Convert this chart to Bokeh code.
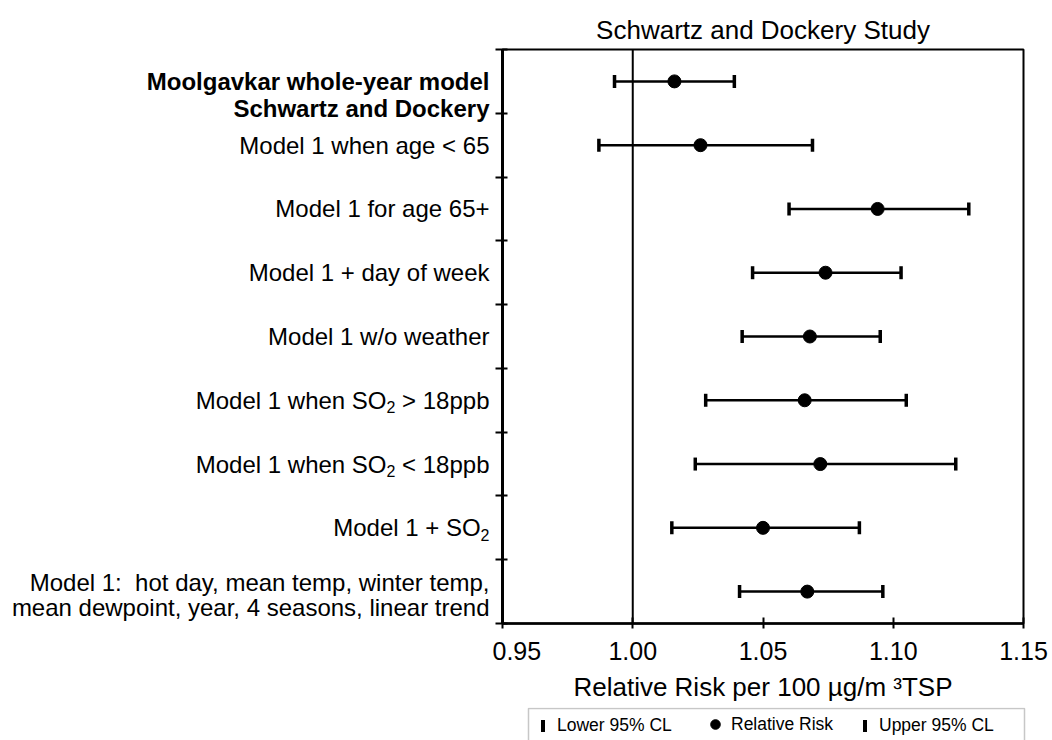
import math

from bokeh.core.properties import value
from bokeh.embed import file_html
from bokeh.layouts import column, row
from bokeh.models import (BoxAnnotation, ColumnDataSource, FixedTicker, Legend,
                          LegendItem, Range1d, Span)
from bokeh.plotting import figure
from bokeh.resources import INLINE

FONT = "Liberation Sans"
NBSP = "\u00a0"

# ---- data (top row first) -------------------------------------------------
studies = [
    "Moolgavkar whole-year model",
    "Model 1 when age < 65",
    "Model 1 for age 65+",
    "Model 1 + day of week",
    "Model 1 w/o weather",
    "Model 1 when SO_2 > 18ppb",
    "Model 1 when SO_2 < 18ppb",
    "Model 1 + SO_2",
    "Model 1:" + NBSP + " hot day, mean temp, winter temp,\n"
    "mean dewpoint, year, 4 seasons, linear trend",
]
bold_rows = [True, False, False, False, False, False, False, False, False]
lower_cl = [0.993, 0.987, 1.060, 1.046, 1.042, 1.028, 1.024, 1.015, 1.041]
relative_risk = [1.016, 1.026, 1.094, 1.074, 1.068, 1.066, 1.072, 1.050, 1.067]
upper_cl = [1.039, 1.069, 1.129, 1.103, 1.095, 1.105, 1.124, 1.087, 1.096]

group_header = "Schwartz and Dockery"
x_ticks = [0.95, 1.00, 1.05, 1.10, 1.15]
x_tick_labels = ["0.95", "1.00", "1.05", "1.10", "1.15"]

title_text = "Schwartz and Dockery Study"
x_title = "Relative Risk per 100 \u00b5g/m \u00b3TSP"
legend_labels = ["Lower 95% CL", "Relative Risk", "Upper 95% CL"]

# ---- layout constants -----------------------------------------------------
n = len(studies)
row_y = [n - 0.5 - i for i in range(n)]
header_y = n - 0.93

TOP, BOTTOM = 49, 84
FRAME_H = 574
LABEL_W = 492
LABEL_PX = 24
SUB_PX = 16
# Arial / Liberation Sans advance widths (per 1000 em) for label tails
ADV = {" ": 278, NBSP: 278, "<": 584, ">": 584, "1": 556, "8": 556,
       "p": 556, "b": 556, "2": 556}


def text_width(s, px):
    return sum(ADV.get(c, 556) for c in s) * px / 1000.0


y_range = Range1d(0, n)
src = ColumnDataSource(dict(y=row_y, lo=lower_cl, rr=relative_risk, hi=upper_cl))

# ---- main chart -----------------------------------------------------------
p = figure(frame_width=521, frame_height=FRAME_H, output_backend="svg",
           toolbar_location=None, x_range=Range1d(0.95, 1.15), y_range=y_range,
           min_border_left=10, min_border_right=29, min_border_top=TOP,
           min_border_bottom=BOTTOM, title=title_text)

p.title.align = "center"
p.title.text_font = FONT
p.title.text_font_size = "26px"
p.title.text_font_style = "normal"
p.title.text_color = "black"

p.grid.visible = False
p.outline_line_color = "black"
p.outline_line_width = 2
p.background_fill_color = "white"
p.border_fill_color = "white"

xa = p.xaxis[0]
xa.ticker = FixedTicker(ticks=x_ticks)
xa.major_label_overrides = {t: s for t, s in zip(x_ticks, x_tick_labels)}
xa.major_label_text_font = FONT
xa.major_label_text_font_size = "25px"
xa.major_label_text_color = "black"
xa.axis_label = x_title
xa.axis_label_text_font = FONT
xa.axis_label_text_font_size = "26px"
xa.axis_label_text_font_style = "normal"
xa.axis_label_text_color = "black"
xa.axis_label_standoff = 9
xa.major_label_standoff = 13
xa.axis_line_width = 2.5
xa.axis_line_color = "black"
xa.major_tick_line_width = 2
xa.major_tick_line_color = "black"
xa.major_tick_in = 6
xa.major_tick_out = 5
xa.minor_tick_line_color = None

# y axis: only boundary ticks between rows
ya = p.yaxis[0]
ya.ticker = FixedTicker(ticks=[], minor_ticks=list(range(n + 1)))
ya.axis_line_width = 3
ya.axis_line_color = "black"
ya.minor_tick_line_width = 2
ya.minor_tick_line_color = "black"
ya.minor_tick_in = 5
ya.minor_tick_out = 7
ya.major_tick_line_color = None
ya.major_label_standoff = 0

p.add_layout(Span(location=1.0, dimension="height", line_color="black",
                  line_width=2))

p.segment(x0="lo", y0="y", x1="hi", y1="y", source=src,
          line_color="black", line_width=2.5)
p.scatter(x="lo", y="y", source=src, marker="dash", angle=math.pi / 2,
          size=13, line_width=3.5, line_color="black")
p.scatter(x="hi", y="y", source=src, marker="dash", angle=math.pi / 2,
          size=13, line_width=3.5, line_color="black")
p.scatter(x="rr", y="y", source=src, marker="circle", size=13,
          fill_color="black", line_color="black")

# ---- category labels ------------------------------------------------------
lab = figure(frame_width=LABEL_W, frame_height=FRAME_H, output_backend="svg",
             toolbar_location=None, x_range=Range1d(0, LABEL_W), y_range=y_range,
             min_border_left=0, min_border_right=0, min_border_top=TOP,
             min_border_bottom=BOTTOM, x_axis_location=None,
             y_axis_location=None)
lab.outline_line_color = None
lab.grid.visible = False

RIGHT = 489


def add_text(text, x, y, align="right", size=LABEL_PX, bold=False, dy=0):
    lab.text(x=[x], y=[y], text=[text], text_align=align,
             text_baseline="middle", text_font=value(FONT),
             text_font_size=value(f"{size}px"),
             text_font_style="bold" if bold else "normal",
             text_color="black", y_offset=dy)


for label, y, bold in zip(studies, row_y, bold_rows):
    lines = label.split("\n")
    if len(lines) > 1:
        for k, line in enumerate(lines):
            add_text(line, RIGHT, y, dy=-9 + 25 * k)
        continue
    if "_2" in label:
        head, tail = label.split("_2")
        tail = tail.replace(" ", NBSP, 1) if tail.startswith(" ") else tail
        tail_w = text_width(tail, LABEL_PX)
        sub_w = text_width("2", SUB_PX)
        if tail:
            add_text(tail, RIGHT - tail_w, y, align="left")
        add_text("2", RIGHT - tail_w - sub_w, y, align="left", size=SUB_PX, dy=7)
        add_text(head, RIGHT - tail_w - sub_w, y)
    else:
        add_text(label, RIGHT, y, bold=bold)

add_text(group_header, RIGHT, header_y, bold=True)

# ---- legend strip ---------------------------------------------------------
LEG_H = 740 - (TOP + FRAME_H + BOTTOM)
leg = figure(width=1052, height=LEG_H, output_backend="svg",
             toolbar_location=None, x_range=Range1d(0, 1052),
             y_range=Range1d(0, LEG_H), min_border=0,
             x_axis_location=None, y_axis_location=None)
leg.outline_line_color = None
leg.grid.visible = False

# frame around the three keys (runs past the bottom of the page)
leg.add_layout(BoxAnnotation(left=528, right=1024, bottom=-20, top=LEG_H - 1,
                             fill_alpha=0, line_color="#444444",
                             line_width=1.5))

# key glyphs sit outside the strip's visible range; only the legends show them
key = ColumnDataSource(dict(x=[-100], y=[-100]))
lo_key = leg.rect(x="x", y="y", width=1, height=1, source=key,
                  fill_color="black", line_color=None)
rr_key = leg.scatter(x="x", y="y", source=key, marker="circle",
                     fill_color="black", line_color="black")
hi_key = leg.rect(x="x", y="y", width=1, height=1, source=key,
                  fill_color="black", line_color=None)

key_specs = [  # (renderer, glyph box width, glyph box height, left, standoff)
    (lo_key, 5, 15, 540, 12),
    (rr_key, 24, 24, 703, 4),
    (hi_key, 5, 15, 862, 12),
]
for text, (r, gw, gh, left, gap) in zip(legend_labels, key_specs):
    leg.add_layout(Legend(items=[LegendItem(label=text, renderers=[r])],
                          location=(left, 4), label_text_font=FONT,
                          label_text_font_size="17.5px",
                          label_text_color="black", glyph_width=gw,
                          glyph_height=gh, label_standoff=gap, padding=0,
                          margin=0, border_line_color=None,
                          background_fill_alpha=0))

layout = column(row(lab, p), leg)
open("out.html", "w").write(file_html(layout, INLINE))
